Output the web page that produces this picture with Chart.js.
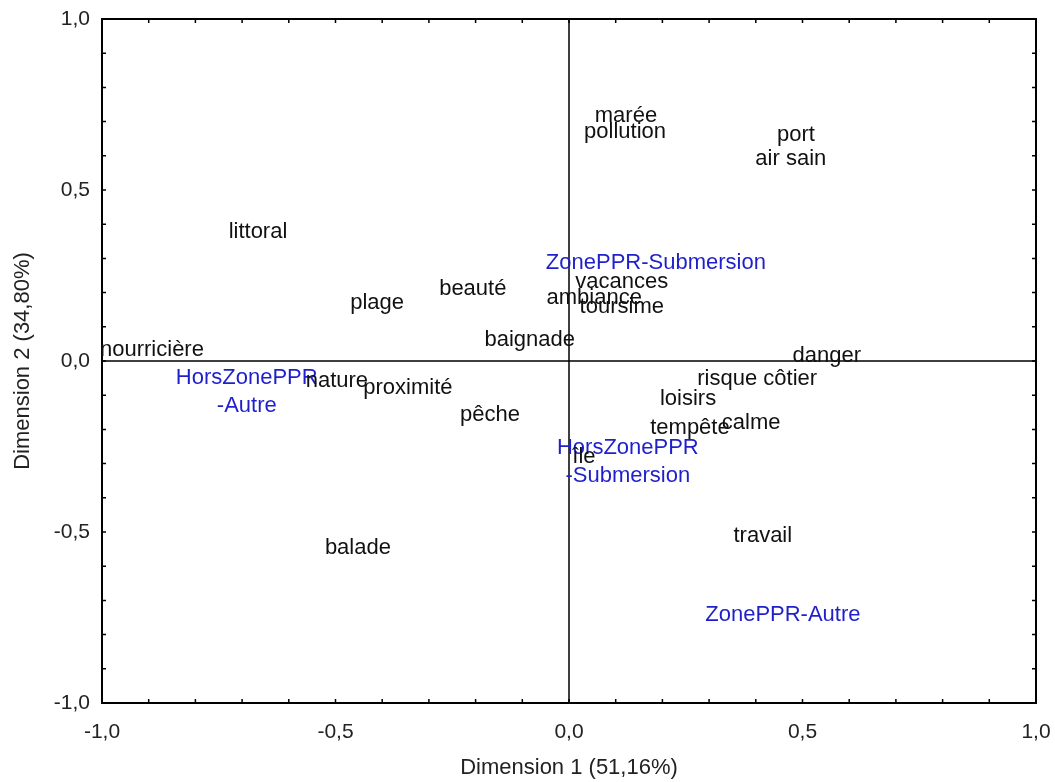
<!DOCTYPE html>
<html>
<head>
<meta charset="utf-8">
<script src="https://cdn.jsdelivr.net/npm/chart.js@4/dist/chart.umd.min.js"></script>
<style>
html,body{margin:0;padding:0;background:#fff;}
#wrap{width:1055px;height:782px;}
</style>
</head>
<body>
<div id="wrap"><canvas id="c" width="1055" height="782"></canvas></div>
<script>
// Point labels (category names) and their coordinates on the two dimensions
const labels = ["marée","pollution","port","air sain","littoral","ZonePPR-Submersion","vacances","beauté","ambiance","toursime","plage","baignade","nourricière","danger","HorsZonePPR\n-Autre","nature","proximité","risque côtier","loisirs","pêche","calme","tempête","HorsZonePPR\n-Submersion","île","travail","balade","ZonePPR-Autre"];
const dim1 = [0.122,0.120,0.486,0.475,-0.666,0.186,0.113,-0.206,0.054,0.113,-0.411,-0.084,-0.893,0.552,-0.690,-0.497,-0.345,0.403,0.255,-0.169,0.390,0.259,0.126,0.032,0.415,-0.452,0.458];
const dim2 = [0.726,0.678,0.670,0.599,0.386,0.296,0.240,0.219,0.193,0.167,0.178,0.070,0.041,0.023,-0.082,-0.050,-0.070,-0.044,-0.102,-0.149,-0.173,-0.187,-0.287,-0.272,-0.503,-0.538,-0.734];
// 1 = supplementary / zone modality (blue), 0 = word (black)
const isZone = [0,0,0,0,0,1,0,0,0,0,0,0,0,0,1,0,0,0,0,0,0,0,1,0,0,0,1];
const tickValues = [-1,-0.5,0,0.5,1];
const xTitle = "Dimension 1 (51,16%)";
const yTitle = "Dimension 2 (34,80%)";

const FONT = "'Liberation Sans', Arial, sans-serif";
const fmt = v => v.toFixed(1).replace('.', ',');

const framePlugin = {
  id: 'frame',
  beforeDatasetsDraw(chart) {
    const {ctx, chartArea: a, scales: {x, y}} = chart;
    ctx.save();
    ctx.strokeStyle = '#000';
    ctx.lineWidth = 1.5;
    ctx.beginPath();
    const x0 = x.getPixelForValue(0), y0 = y.getPixelForValue(0);
    ctx.moveTo(x0, a.top); ctx.lineTo(x0, a.bottom);
    ctx.moveTo(a.left, y0); ctx.lineTo(a.right, y0);
    ctx.stroke();
    ctx.lineWidth = 1.5;
    ctx.beginPath();
    for (let i = -9; i <= 9; i++) {
      const v = i / 10;
      const px = x.getPixelForValue(v), py = y.getPixelForValue(v);
      ctx.moveTo(px, a.top); ctx.lineTo(px, a.top + 4);
      ctx.moveTo(px, a.bottom); ctx.lineTo(px, a.bottom - 4);
      ctx.moveTo(a.left, py); ctx.lineTo(a.left + 4, py);
      ctx.moveTo(a.right, py); ctx.lineTo(a.right - 4, py);
    }
    ctx.stroke();
    ctx.lineWidth = 2;
    ctx.strokeRect(a.left, a.top, a.right - a.left, a.bottom - a.top);
    ctx.restore();
  }
};

const labelPlugin = {
  id: 'ptlabels',
  afterDatasetsDraw(chart) {
    const {ctx} = chart;
    const meta = chart.getDatasetMeta(0);
    ctx.save();
    ctx.font = "22px " + FONT;
    ctx.textAlign = 'center';
    ctx.textBaseline = 'middle';
    meta.data.forEach((el, i) => {
      const lines = labels[i].split('\n');
      ctx.fillStyle = isZone[i] ? '#1f1fcc' : '#111';
      const lh = 28;
      const start = el.y + 3 - (lines.length - 1) * lh / 2;
      lines.forEach((t, k) => ctx.fillText(t, el.x, start + k * lh));
    });
    ctx.restore();
  }
};

new Chart(document.getElementById('c'), {
  type: 'scatter',
  data: {
    datasets: [{
      data: dim1.map((v, i) => ({x: v, y: dim2[i]})),
      pointRadius: 0,
      pointHoverRadius: 0
    }]
  },
  options: {
    responsive: false,
    animation: false,
    events: [],
    layout: {padding: {left: 0, top: 19, right: 19, bottom: 0}},
    plugins: {legend: {display: false}, tooltip: {enabled: false}},
    scales: {
      x: {
        type: 'linear', min: -1, max: 1,
        afterBuildTicks: s => { s.ticks = tickValues.map(v => ({value: v})); },
        afterFit: s => { s.height = 79; s.paddingLeft = 0; s.paddingRight = 0; },
        grid: {display: false},
        border: {display: false},
        ticks: {color: '#222', font: {family: FONT, size: 21}, padding: 9, maxRotation: 0, autoSkip: false, callback: v => fmt(v)},
        title: {display: true, text: xTitle, color: '#222', font: {family: FONT, size: 22}, padding: {top: 0, bottom: 1}}
      },
      y: {
        type: 'linear', min: -1, max: 1,
        afterBuildTicks: s => { s.ticks = tickValues.map(v => ({value: v})); },
        afterFit: s => { s.width = 102; s.paddingTop = 0; s.paddingBottom = 0; },
        grid: {display: false},
        border: {display: false},
        ticks: {color: '#222', font: {family: FONT, size: 21}, padding: 4, autoSkip: false, callback: v => fmt(v)},
        title: {display: true, text: yTitle, color: '#222', font: {family: FONT, size: 22}, padding: {top: 10, bottom: 0}}
      }
    }
  },
  plugins: [framePlugin, labelPlugin]
});
</script>
</body>
</html>
